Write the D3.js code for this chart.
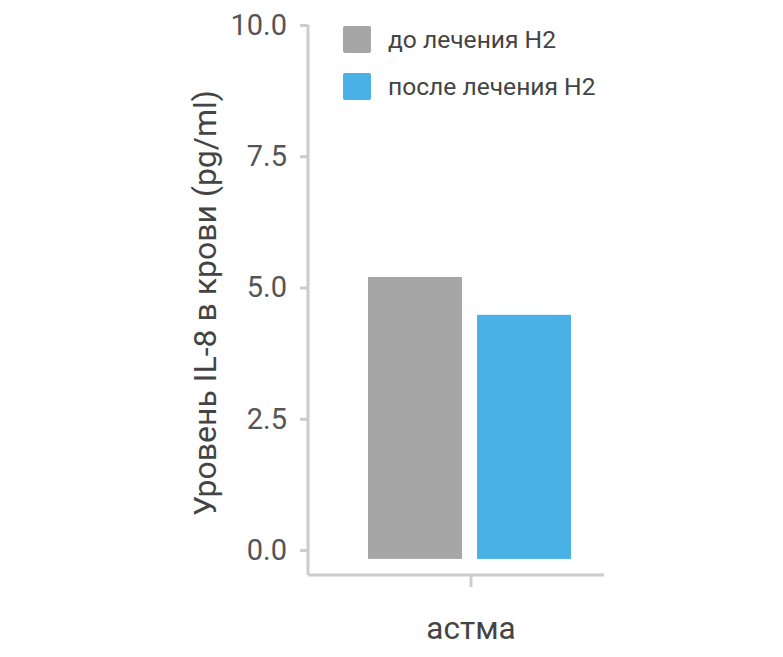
<!DOCTYPE html>
<html><head><meta charset="utf-8">
<script src="https://cdn.jsdelivr.net/npm/d3@7"></script>
<style>body{margin:0;background:#fff}svg{display:block}text{font-family:Roboto,sans-serif}</style>
</head><body><svg id="c" width="783" height="657"></svg>
<script>
const categories = ["астма"];
const seriesNames = ["до лечения H2", "после лечения H2"];
const seriesColors = ["#a6a6a6", "#4ab1e6"];
const beforeValues = [5.2];
const afterValues = [4.48];
const yTicks = [0, 2.5, 5, 7.5, 10];
const yTitle = "Уровень IL-8 в крови (pg/ml)";

const svg = d3.select("#c");
const y = d3.scaleLinear().domain([0, 10]).range([550, 25]);
const x0 = d3.scaleBand().domain(categories).range([308, 634]).paddingInner(0).paddingOuter(0);
const x1 = d3.scaleBand().domain(seriesNames).range([368, 571]).paddingInner(0.138);

// y axis
const yAxis = d3.axisLeft(y).tickValues(yTicks).tickFormat(d3.format(".1f")).tickSize(8).tickPadding(13);
const gy = svg.append("g").attr("transform","translate(308,0)").call(yAxis);
gy.select(".domain").attr("d","M0,25V575").attr("stroke","#cccccc").attr("stroke-width",3).attr("fill","none");
gy.selectAll(".tick line").attr("stroke","#cccccc").attr("stroke-width",3);
gy.selectAll(".tick text").attr("fill","#555555").style("font-size","29px");

// x axis
const xAxis = d3.axisBottom(x0).tickSize(12).tickPadding(30).tickSizeOuter(0);
const gx = svg.append("g").attr("transform","translate(0,575)").call(xAxis);
gx.select(".domain").attr("d","M308,0H604").attr("stroke","#cccccc").attr("stroke-width",3);
gx.selectAll(".tick").attr("transform", d => `translate(471,0)`);
gx.selectAll(".tick line").attr("stroke","#cccccc").attr("stroke-width",3);
gx.selectAll(".tick text").attr("fill","#444444").style("font-size","31.5px");

// bars
const series = [beforeValues, afterValues];
const base = -0.17;
series.forEach((vals, si) => {
  svg.append("g").selectAll("rect").data(vals).join("rect")
    .attr("x", x1(seriesNames[si]))
    .attr("width", x1.bandwidth())
    .attr("y", d => y(d))
    .attr("height", d => y(base) - y(d))
    .attr("fill", seriesColors[si]);
});

// y title
svg.append("text").attr("transform","translate(216,303) rotate(-90)")
  .attr("text-anchor","middle").attr("fill","#444444").style("font-size","32px").text(yTitle);

// legend
const lg = svg.append("g").selectAll("g").data(seriesNames).join("g")
  .attr("transform",(d,i)=>`translate(343,${26+i*47})`);
lg.append("rect").attr("width",28).attr("height",27).attr("rx",2).attr("fill",(d,i)=>seriesColors[i]);
lg.append("text").attr("x",45).attr("y",22).attr("fill","#444444").style("font-size","24.6px").text(d=>d);
</script></body></html>
